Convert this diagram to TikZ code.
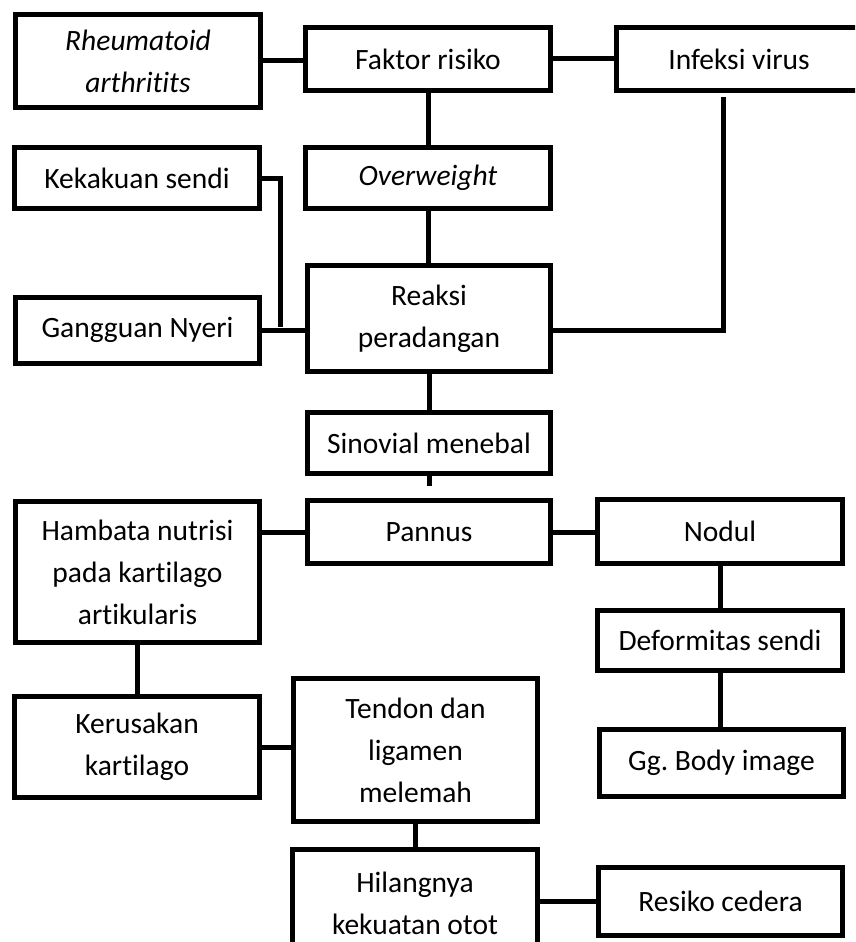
\documentclass[tikz,border=0pt]{standalone}
\usepackage{fontspec}
\setmainfont[Ligatures=NoCommon]{Carlito}
\frenchspacing
\begin{document}
\begin{tikzpicture}[x=1pt,y=-1pt,
  box/.style={draw, line width=5pt, align=center, inner sep=0pt, font=\fontsize{29.5}{42}\selectfont},
  conn/.style={line width=5pt}]
\useasboundingbox (0,0) rectangle (855,942);
\clip (0,0) rectangle (855,942);
\node[box, minimum width=245, minimum height=93] (rh) at (138,61) {\textit{Rheumatoid}\\\textit{arthritits}};
\node[box, minimum width=245, minimum height=63] (fr) at (428,59) {Faktor risiko};
\node[box, minimum width=245, minimum height=63] (iv) at (739,59) {Infeksi virus};
\node[box, minimum width=245, minimum height=61] (ow) at (428,178) {\textit{Overweight}};
\node[box, minimum width=245, minimum height=61] (kk) at (137,178) {Kekakuan sendi};
\node[box, minimum width=243, minimum height=106] (rp) at (429,318.5) {Reaksi\\peradangan};
\node[box, minimum width=244, minimum height=66] (gn) at (137.5,330) {Gangguan Nyeri};
\node[box, minimum width=243, minimum height=61] (sm) at (429,443) {Sinovial menebal};
\node[box, minimum width=243, minimum height=63] (pn) at (429,532) {Pannus};
\node[box, minimum width=244, minimum height=141] (hn) at (137.5,572) {Hambata nutrisi\\pada kartilago\\artikularis};
\node[box, minimum width=245, minimum height=64] (nd) at (720,531.5) {Nodul};
\node[box, minimum width=245, minimum height=60] (df) at (720,640.5) {Deformitas sendi};
\node[box, minimum width=245, minimum height=101] (kr) at (137,747) {Kerusakan\\kartilago};
\node[box, minimum width=244, minimum height=143] (tl) at (415.5,750) {Tendon dan\\ligamen\\melemah};
\node[box, minimum width=244, minimum height=67] (gb) at (721.5,763) {Gg. Body image};
\node[box, minimum width=245, minimum height=107] (hk) at (415,903) {Hilangnya\\kekuatan otot};
\node[box, minimum width=244, minimum height=68] (rc) at (720.5,901.5) {Resiko cedera};
\coordinate (kkend) at (280,327);
\coordinate (ivtop) at (723,97);
\coordinate (smend) at (429,486);
\draw[conn] (rh.east) -- (rh.east -| fr.west);
\draw[conn] (fr.east) -- (iv.west);
\draw[conn] (fr.south) -- (ow.north);
\draw[conn] (ow.south) -- (ow.south |- rp.north);
\draw[conn] (kk.east) -| (kkend);
\draw[conn] (gn.east) -- (gn.east -| rp.west);
\draw[conn] (ivtop) |- (rp.east |- gn.east);
\draw[conn] (rp.south) -- (rp.south |- sm.north);
\draw[conn] (sm.south) -- (smend);
\draw[conn] (pn.west -| hn.east) -- (pn.west);
\draw[conn] (pn.east) -- (pn.east -| nd.west);
\draw[conn] (nd.south) -- (nd.south |- df.north);
\draw[conn] (df.south) -- (df.south |- gb.north);
\draw[conn] (hn.south) -- (hn.south |- kr.north);
\draw[conn] (kr.east) -- (kr.east -| tl.west);
\draw[conn] (tl.south) -- (tl.south |- hk.north);
\draw[conn] (rc.west -| hk.east) -- (rc.west);
\end{tikzpicture}
\end{document}
